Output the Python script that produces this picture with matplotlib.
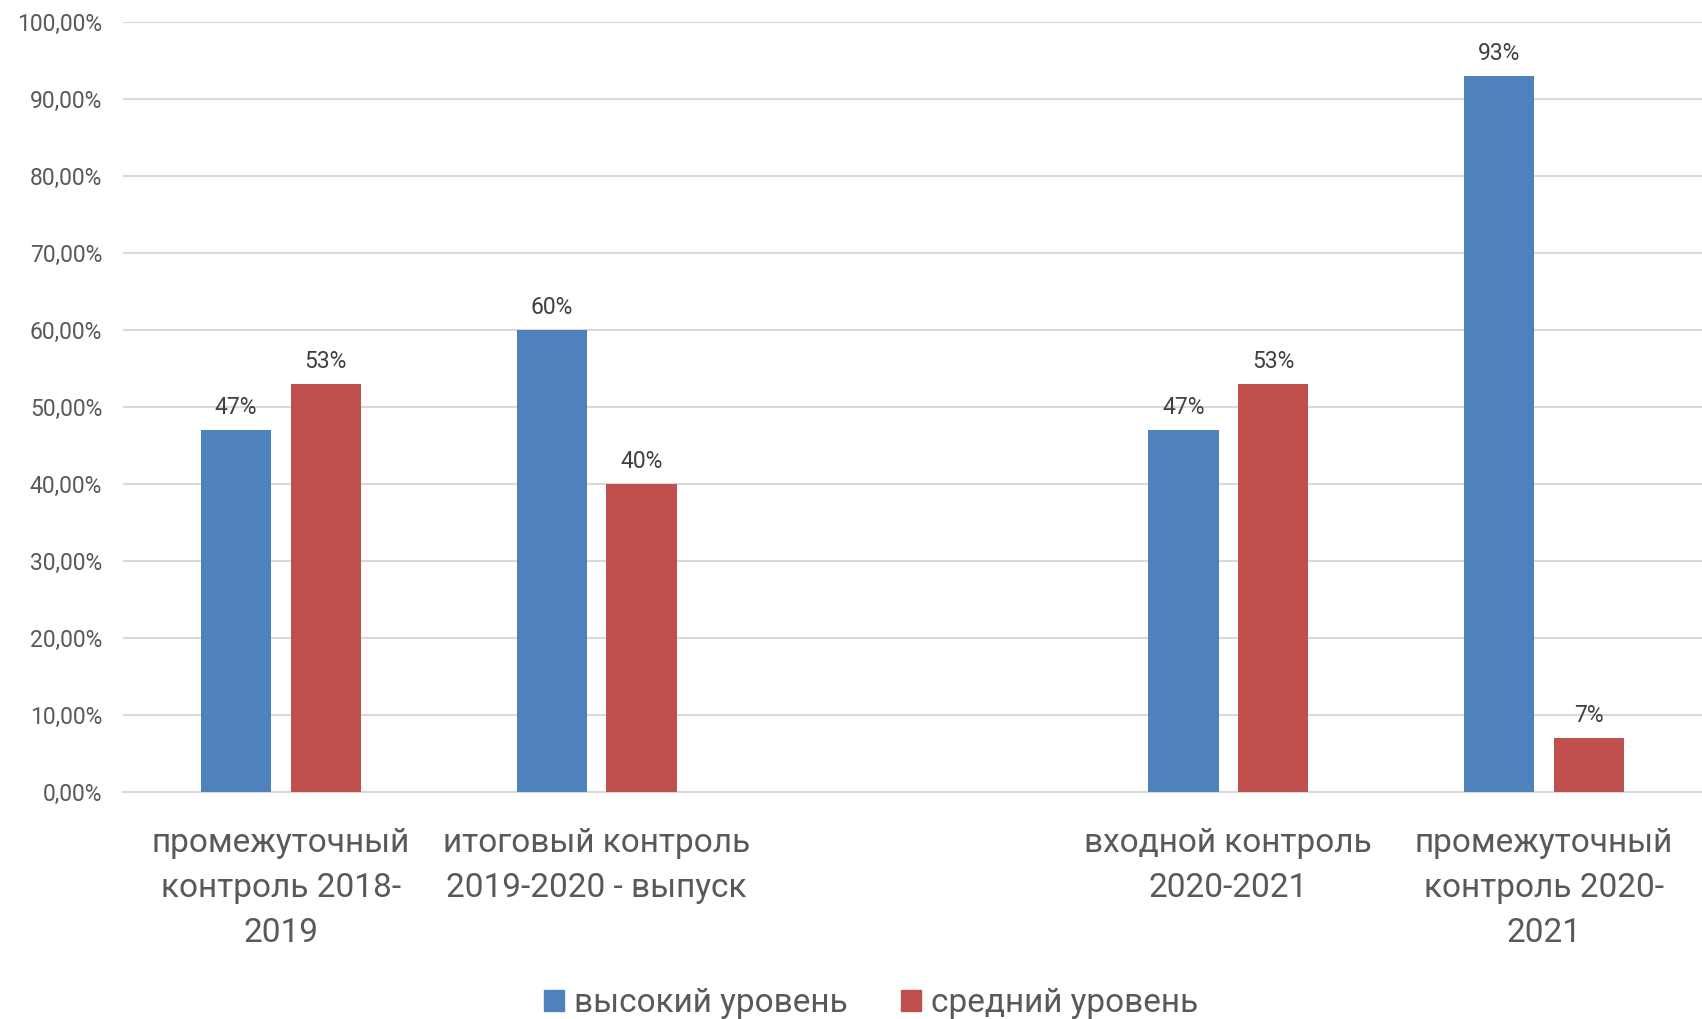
import matplotlib
matplotlib.use("Agg")
import matplotlib.pyplot as plt
import numpy as np
from matplotlib.patches import Patch

plt.rcParams['font.family'] = ['Roboto', 'DejaVu Sans']

categories = ["промежуточный\nконтроль 2018-\n2019",
              "итоговый контроль\n2019-2020 - выпуск",
              "",
              "входной контроль\n2020-2021",
              "промежуточный\nконтроль 2020-\n2021"]
high = [47, 60, None, 47, 93]
mid = [53, 40, None, 53, 7]
series_names = ["высокий уровень", "средний уровень"]
yticks = [0, 10, 20, 30, 40, 50, 60, 70, 80, 90, 100]

BLUE = "#4F81BD"
RED = "#C0504D"
TXT = "#595959"

fig = plt.figure(figsize=(17.02, 10.19), dpi=100)
ax = fig.add_axes([123/1702, 1 - 792/1019, 1 - 123/1702, (792 - 22)/1019])

x = np.arange(len(categories))
w = 0.223
off = 0.142
for vals, sign, col in [(high, -1, BLUE), (mid, 1, RED)]:
    for xi, v in zip(x, vals):
        if v is None:
            continue
        ax.bar(xi + sign*off, v, width=w, color=col, zorder=3)
        ax.annotate(f"{v}%", (xi + sign*off, v), xytext=(0, 8),
                    textcoords="offset points", ha="center", va="bottom",
                    fontsize=16.5, color="#404040")

ax.set_xlim(-0.5, len(categories) - 0.5)
ax.set_ylim(0, 100)
ax.set_yticks(yticks)
ax.set_yticklabels([f"{t:.2f}".replace('.', ',') + '%' for t in yticks],
                   fontsize=16.5, color=TXT)
ax.set_xticks(x)
ax.set_xticklabels(categories, fontsize=24, color=TXT, linespacing=1.52)
ax.tick_params(axis='both', length=0)
ax.tick_params(axis='y', pad=15)
ax.tick_params(axis='x', pad=25)
ax.grid(axis='y', color="#D9D9D9", linewidth=1.5, zorder=0)
for s in ['top', 'right', 'left']:
    ax.spines[s].set_visible(False)
ax.spines['bottom'].set_color("#D9D9D9")
ax.spines['bottom'].set_linewidth(1.5)

handles = [Patch(color=BLUE), Patch(color=RED)]
leg = fig.legend(handles, series_names, loc='center', bbox_to_anchor=(0.512, 1 - 1003/1019),
                 ncol=2, frameon=False, fontsize=24, handlelength=0.6, handleheight=0.6,
                 handletextpad=0.3, columnspacing=1.6)
for t in leg.get_texts():
    t.set_color(TXT)

fig.savefig("out.png", dpi=100)
